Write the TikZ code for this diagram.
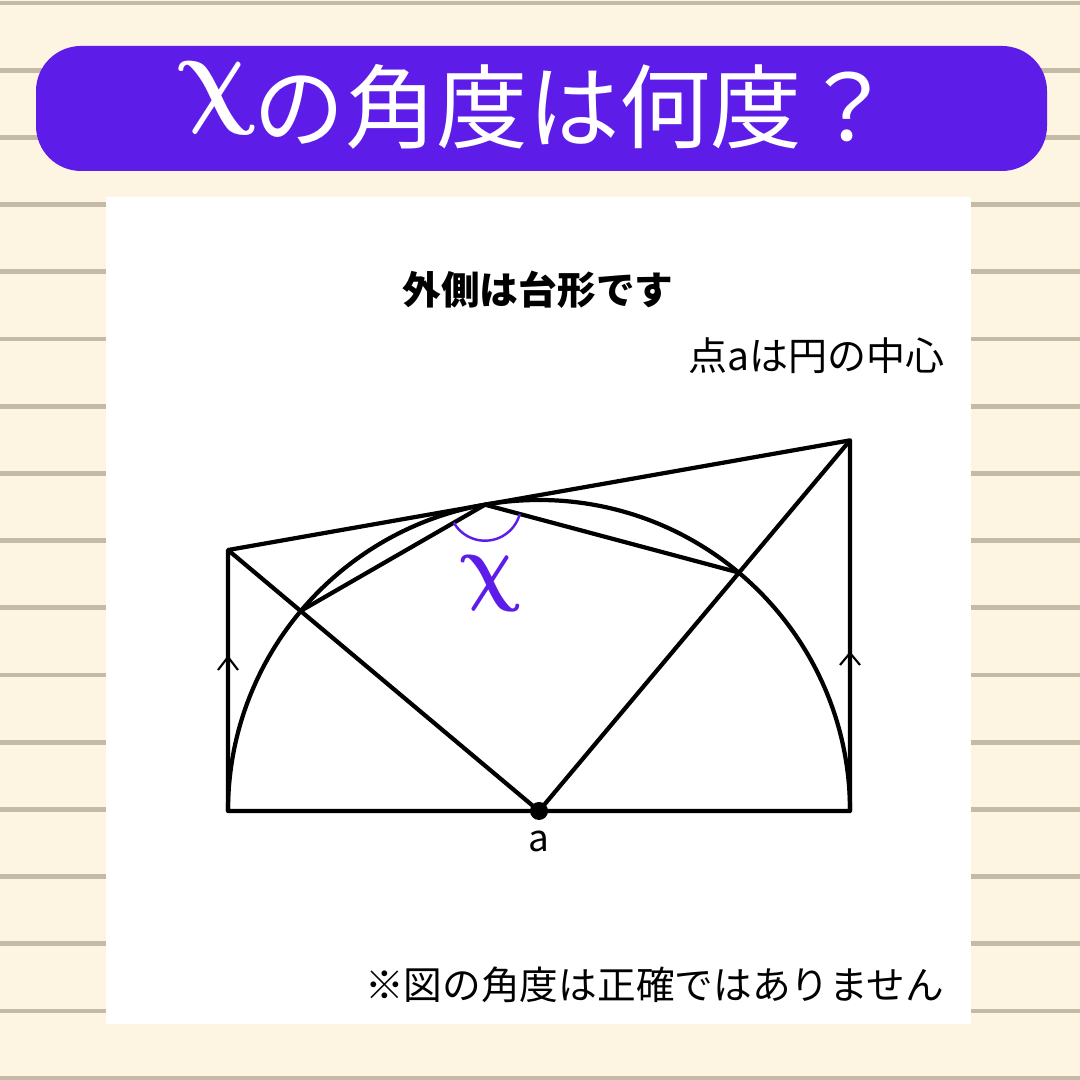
\documentclass[tikz,border=0pt]{standalone}
\usepackage{amsmath}
\usepackage{fontspec}
\setmainfont{Noto Sans CJK JP}
\usetikzlibrary{calc,positioning}
\definecolor{paper}{HTML}{FDF4E2}
\definecolor{ruled}{HTML}{C4BAA6}
\definecolor{qpurple}{HTML}{5E1CE8}
\tikzset{
  figline/.style={line width=1.2pt,black,line join=round},
  ruleline/.style={line width=1.4pt,ruled},
  parmark/.style={line width=0.6pt},
  anglearc/.style={line width=0.7pt,qpurple},
  caption/.style={inner sep=0pt,font=\fontsize{#1}{#1}\selectfont},
  upright/.style={transform shape,xslant=-0.24,xscale=0.88},
}

\begin{document}
\begin{tikzpicture}[x=0.01cm,y=0.01cm]
		% paper
		\fill[paper] (0,0) rectangle (1080,1080);
		\useasboundingbox (0,0) rectangle (1080,1080);
		\foreach \k in {0,...,16}
			\draw[ruleline] (0,{1077-67.2*\k}) -- (1080,{1077-67.2*\k});
		\fill[white] (106,56) rectangle (971,883);
		\fill[qpurple,rounded corners=0.45cm] (36,909) rectangle (1047,1034);
		\begin{scope}[shift={(217,982)},scale=1.3]
			\node(titlechi) [upright,caption=24,text=white] at (0,0) {$\boldsymbol{\chi}$};
		\end{scope}
		\node(title) [caption=26,anchor=base west,text=white] at (253,938) {の角度は何度？};
		\node(hint) [caption=11,anchor=base] at (538,775) {\bfseries 外側は台形です};
		\node(center) [caption=11.1,anchor=base east] at (945,709) {点aは円の中心};
		\node(note) [caption=11,anchor=base east] at (945,80) {※図の角度は正確ではありません};
		% figure
		\begin{scope}
			\coordinate (A) at (539,269);
			\coordinate (B1) at ($(A)+(-311,0)$);
			\coordinate (B2) at ($(A)+(311,0)$);
			\coordinate (T) at ($(A)+(100:311)$);
			\coordinate (TL) at ($(T)+(-257,{-257*tan(10)})$);
			\coordinate (TR) at ($(T)+(365,{365*tan(10)})$);
			\coordinate (P) at ($(A)!3.11cm!(TL)$);
			\coordinate (Q) at ($(A)!3.11cm!(TR)$);
			\draw[figline] (B1) -- (B2) -- (TR) -- (TL) -- cycle;
			\draw[figline] (B1) arc[start angle=180,end angle=0,radius=311];
			\draw[figline] (TL) -- (A) -- (TR);
			\draw[figline] (P) -- (T) -- (Q);
			\draw[anglearc] ($(T)+(210:36)$) arc[start angle=210,end angle=345,radius=36];
			\draw[parmark] ($(B1)+(-10,141)$) -- ($(B1)+(0,154)$) -- ($(B1)+(10,141)$);
			\draw[parmark] ($(B2)+(-10,146)$) -- ($(B2)+(0,158)$) -- ($(B2)+(10,146)$);
			\fill (A) circle (9);
			\node(a) [caption=10.5,anchor=base] at ($(A)+(0,-41)$) {a};
		\end{scope}
		\begin{scope}[shift={(491,496)}]
			\node(chi) [upright,caption=27,text=qpurple] at (0,0) {$\boldsymbol{\chi}$};
		\end{scope}
	\end{tikzpicture}
\end{document}
